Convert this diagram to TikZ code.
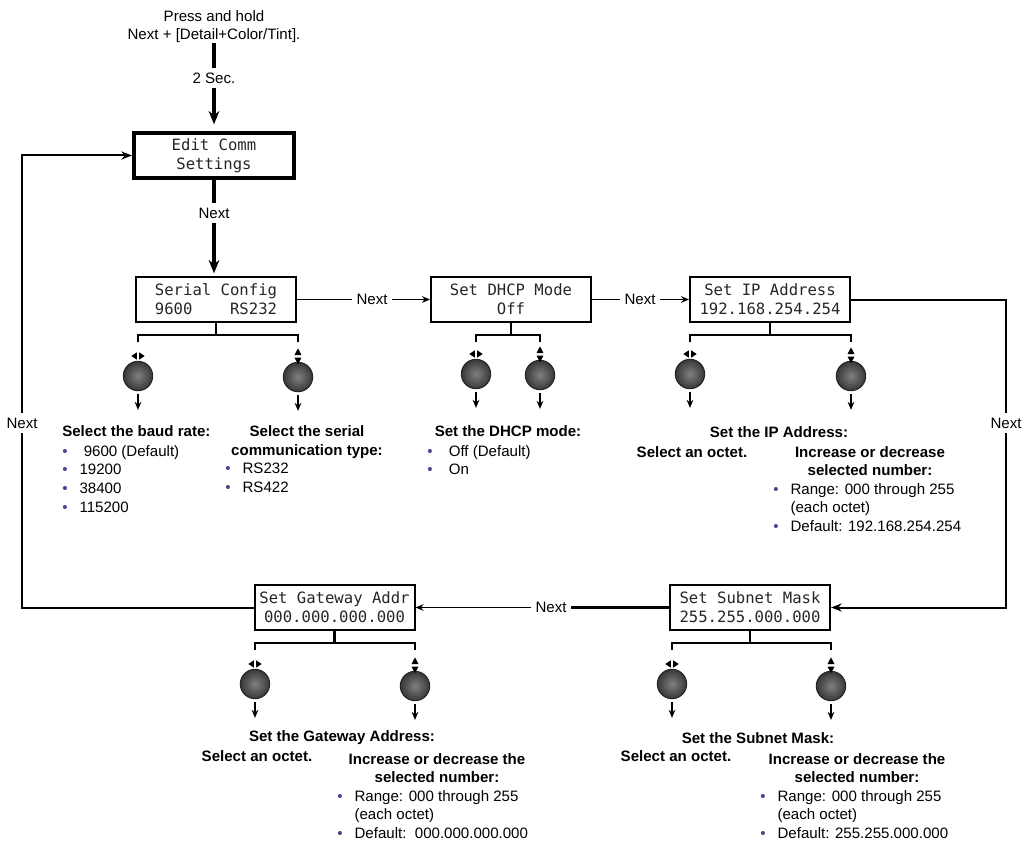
\documentclass[tikz,border=0pt]{standalone}
\usepackage{fontspec}
\setmainfont{Liberation Sans}
\setmonofont{DejaVu Sans Mono}
\usetikzlibrary{positioning, calc, arrows.meta}
\definecolor{dotblue}{RGB}{70,70,150}
\newcommand{\bul}{\makebox[13pt][l]{\textcolor{dotblue}{\textbullet}}}

\begin{document}
\begin{tikzpicture}[x=0.75pt, y=-0.75pt,
    lcd/.style={rectangle, draw, line width=1.5pt, minimum width=120pt,
      minimum height=33.75pt, inner sep=0pt, align=center, text=black!85,
      font=\fontsize{11.7}{14.25}\selectfont\ttfamily},
    knob/.style={circle, minimum size=22pt, inner sep=0pt, draw=black!85,
      line width=0.8pt, shade, inner color=black!50, outer color=black!78},
    txt/.style={inner sep=0pt, font=\fontsize{11.3}{14}\selectfont},
    hd/.style={inner sep=0pt, align=center, font=\fontsize{11.3}{13.75}\selectfont\bfseries},
    lbl/.style={txt, inner sep=3pt},
    main/.style={line width=2.4pt, -{Stealth[length=10pt, width=8pt]}},
    flow/.style={line width=1.1pt},
    loop/.style={line width=1.5pt},
    bracket/.style={line width=1.6pt},
    >={Stealth[length=6pt, width=5pt]}]

  \useasboundingbox (0,0) rectangle (1026,849);

  % displays
  \node[lcd, line width=3pt] (edit) at (214,155.5) {Edit Comm\\Settings};
  \node[lcd] (serial) at (216,299.5) {Serial Config\\9600~~~~RS232};
  \node[lcd] (dhcp) at (511,299.5) {Set DHCP Mode\\Off};
  \node[lcd] (ip) at (770,299.5) {Set IP Address\\192.168.254.254};
  \node[lcd] (subnet) at (750,607.5) {Set Subnet Mask\\255.255.000.000};
  \node[lcd] (gateway) at (334.5,607.5) {Set Gateway Addr\\000.000.000.000};

  % entry
  \node[txt, align=center, font=\fontsize{11.3}{13.5}\selectfont] (hold) at (214,27)
    {Press and hold\\Next + [Detail+Color/Tint].};
  \node[lbl] (sec) at (214,78) {2 Sec.};
  \node[lbl] (n0) at (214,213) {Next};
  \draw[line width=2.4pt] (hold) -- (sec);
  \draw[main, shorten >=5pt] (sec) -- (edit);
  \draw[line width=2.4pt] (edit) -- (n0);
  \draw[main, shorten >=2pt] (n0) -- (n0 |- serial.north);

  % Next labels
  \node[lbl] (n1) at (372,299.5) {Next};
  \node[lbl] (n2) at (640,299.5) {Next};
  \node[lbl] (n3) at (1006,423) {Next};
  \node[lbl] (n4) at (551,607.5) {Next};
  \node[lbl] (n5) at (22,423) {Next};

  \draw[flow] (serial) -- (n1);
  \draw[flow, ->] (n1) -- (dhcp);
  \draw[flow] (dhcp) -- (n2);
  \draw[flow, ->] (n2) -- (ip);
  \draw[loop] (ip.east) -| (n3.north);
  \draw[loop, -{Stealth[length=8pt, width=6pt]}] (n3.south) |- (subnet.east);
  \draw[loop, line width=1.8pt] (subnet) -- (n4);
  \draw[flow, ->] (n4) -- (gateway);
  \draw[loop] (gateway.west) -| (n5.south);
  \draw[loop, -{Stealth[length=8pt, width=6pt]}] (n5.north) |- (edit.west);

  % knobs
  \foreach \k/\x/\y in {scL/138/376, scR/298/377, dhL/476/374, dhR/540/375,
      ipL/690/374, ipR/851/376, snL/672/684, snR/831/686, gwL/255/684, gwR/415/686}
    \node[knob] (\k) at (\x,\y) {};

  \foreach \b/\lk/\rk in {serial/scL/scR, dhcp/dhL/dhR, ip/ipL/ipR,
      subnet/snL/snR, gateway/gwL/gwR} {
    \path (\b.south) ++(0,12) coordinate (brk);
    \draw[bracket] (\b.south) -- (brk);
    \draw[bracket] (\lk |- brk) ++(0,7) -- (\lk |- brk) -- (\rk |- brk) -- ++(0,7);
  }

  % left/right and up/down marks
  \foreach \k in {scL, dhL, ipL, snL, gwL} {
    \fill ([yshift=15pt]\k.center) ++(-0.8pt,0) -- ++(0,2.8pt) -- ++(-4.2pt,-2.8pt)
      -- ++(4.2pt,-2.8pt) -- cycle;
    \fill ([yshift=15pt]\k.center) ++(0.8pt,0) -- ++(0,2.8pt) -- ++(4.2pt,-2.8pt)
      -- ++(-4.2pt,-2.8pt) -- cycle;
  }
  \foreach \k in {scR, dhR, ipR, snR, gwR} {
    \fill ([yshift=15.5pt]\k.center) ++(0,1pt) -- ++(2.6pt,0) -- ++(-2.6pt,5pt)
      -- ++(-2.6pt,-5pt) -- cycle;
    \fill ([yshift=15.5pt]\k.center) ++(0,-1pt) -- ++(2.6pt,0) -- ++(-2.6pt,-5pt)
      -- ++(-2.6pt,5pt) -- cycle;
  }
  \foreach \k in {scL, scR, dhL, dhR, ipL, ipR, snL, snR, gwL, gwR}
    \draw[flow, ->] ([yshift=-2pt]\k.south) -- ([yshift=-14pt]\k.south);

  % serial config
  \node[hd, anchor=north west] (baudhd) at (62,425) {Select the baud rate:};
  \node[txt, anchor=north west, align=left] (baudls) at (62,445)
    {\bul\ 9600 (Default)\\\bul 19200\\\bul 38400\\\bul 115200};
  \node[hd] (serhd) at (307,442) {Select the serial\\communication type:};
  \node[txt, anchor=north west, align=left] (serls) at (225,463)
    {\bul RS232\\\bul RS422};

  % dhcp
  \node[hd] (dhhd) at (508,431) {Set the DHCP mode:};
  \node[txt, anchor=north west, align=left] (dhls) at (427,445)
    {\bul\ Off (Default)\\\bul\ On};

  % ip address
  \node[hd] (iphd) at (779,432) {Set the IP Address:};
  \node[hd] (ipoct) at (692,452) {Select an octet.};
  \node[hd] (ipinc) at (870,461) {Increase or decrease\\selected number:};
  \node[txt, anchor=north west, align=left] (ipls) at (773,483)
    {\bul Range: 000 through 255\\\hspace{13pt}(each octet)\\\bul Default: 192.168.254.254};

  % gateway
  \node[hd] (gwhd) at (342,738) {Set the Gateway Address:};
  \node[hd] (gwoct) at (257,756) {Select an octet.};
  \node[hd] (gwinc) at (437,768) {Increase or decrease the\\selected number:};
  \node[txt, anchor=north west, align=left] (gwls) at (337,790)
    {\bul Range: 000 through 255\\\hspace{13pt}(each octet)\\\bul Default:~~000.000.000.000};

  % subnet
  \node[hd] (snhd) at (758,738) {Set the Subnet Mask:};
  \node[hd] (snoct) at (676,756) {Select an octet.};
  \node[hd] (sninc) at (857,768) {Increase or decrease the\\selected number:};
  \node[txt, anchor=north west, align=left] (snls) at (760,790)
    {\bul Range: 000 through 255\\\hspace{13pt}(each octet)\\\bul Default: 255.255.000.000};
\end{tikzpicture}
\end{document}
